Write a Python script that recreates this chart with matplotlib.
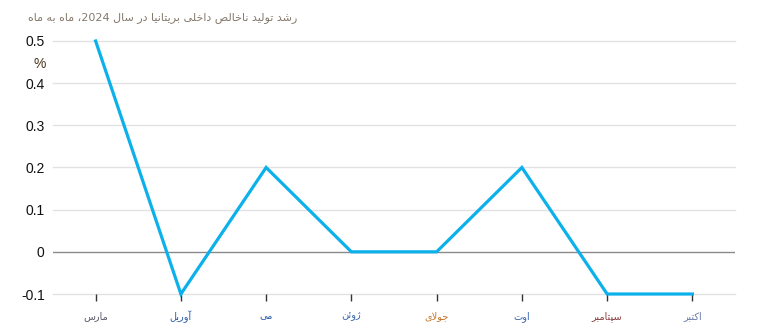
import matplotlib
matplotlib.use("Agg")
import matplotlib.pyplot as plt
import re

# ---------------- data ----------------
months = ["مارس", "آوریل", "می", "ژوئن", "جولای", "اوت", "سپتامبر", "اکتبر"]
growth = [0.5, -0.1, 0.2, 0.0, 0.0, 0.2, -0.1, -0.1]
yticks = [-0.1, 0, 0.1, 0.2, 0.3, 0.4, 0.5]
ytick_labels = ["-0.1", "0", "0.1", "0.2", "0.3", "0.4", "0.5"]
month_colors = ["#5a5a6a", "#2a5aa8", "#2a5aa8", "#3a66aa", "#c47424", "#3a66b0", "#8a3c3c", "#6a78a8"]
title = "رشد تولید ناخالص داخلی بریتانیا در سال 2024، ماه به ماه"

# ---------------- minimal Arabic/Persian shaper ----------------
# (isolated, final, initial, medial) ; right-joining letters have only 2 forms
FORMS = {
    "ا": ("\uFE8D", "\uFE8E"),
    "آ": ("\uFE81", "\uFE82"),
    "د": ("\uFEA9", "\uFEAA"),
    "ر": ("\uFEAD", "\uFEAE"),
    "ژ": ("\uFB8A", "\uFB8B"),
    "و": ("\uFEED", "\uFEEE"),
    "ب": ("\uFE8F", "\uFE90", "\uFE91", "\uFE92"),
    "ت": ("\uFE95", "\uFE96", "\uFE97", "\uFE98"),
    "ج": ("\uFE9D", "\uFE9E", "\uFE9F", "\uFEA0"),
    "خ": ("\uFEA5", "\uFEA6", "\uFEA7", "\uFEA8"),
    "س": ("\uFEB1", "\uFEB2", "\uFEB3", "\uFEB4"),
    "ش": ("\uFEB5", "\uFEB6", "\uFEB7", "\uFEB8"),
    "ص": ("\uFEB9", "\uFEBA", "\uFEBB", "\uFEBC"),
    "ل": ("\uFEDD", "\uFEDE", "\uFEDF", "\uFEE0"),
    "م": ("\uFEE1", "\uFEE2", "\uFEE3", "\uFEE4"),
    "ن": ("\uFEE5", "\uFEE6", "\uFEE7", "\uFEE8"),
    "ه": ("\uFEE9", "\uFEEA", "\uFEEB", "\uFEEC"),
    "ی": ("\uFBFC", "\uFBFD", "\uFBFE", "\uFBFF"),
    "ئ": ("\uFE89", "\uFE8A", "\uFE8B", "\uFE8C"),
    "پ": ("\uFB56", "\uFB57", "\uFB58", "\uFB59"),
    "ک": ("\uFB8E", "\uFB8F", "\uFB90", "\uFB91"),
}


def dual(c):
    return c in FORMS and len(FORMS[c]) == 4


def shape(text):
    out = []
    chars = list(text)
    i = 0
    n = len(chars)
    while i < n:
        c = chars[i]
        if c not in FORMS:
            out.append(c)
            i += 1
            continue
        prev = chars[i - 1] if i > 0 else ""
        joins_prev = dual(prev)
        if c == "ل" and i + 1 < n and chars[i + 1] in ("ا", "آ"):
            if chars[i + 1] == "ا":
                out.append("\uFEFC" if joins_prev else "\uFEFB")
            else:
                out.append("\uFEF6" if joins_prev else "\uFEF5")
            i += 2
            continue
        nxt = chars[i + 1] if i + 1 < n else ""
        joins_next = dual(c) and nxt in FORMS
        f = FORMS[c]
        if joins_prev and joins_next:
            out.append(f[3])
        elif joins_prev:
            out.append(f[1])
        elif joins_next:
            out.append(f[2])
        else:
            out.append(f[0])
        i += 1
    shaped = "".join(out)
    # visual reordering: reverse, keeping digit runs in order
    tokens = re.findall(r"[0-9.]+|[^0-9.]+", shaped)
    vis = []
    for t in reversed(tokens):
        if re.fullmatch(r"[0-9.]+", t):
            vis.append(t)
        else:
            vis.append(t[::-1])
    return "".join(vis)


# ---------------- figure ----------------
fig = plt.figure(figsize=(7.65, 3.33), dpi=100)
ax = fig.add_axes([53 / 765, 39 / 333, (735 - 53) / 765, (294 - 41) / 333])

x = list(range(len(months)))
ax.set_xlim(-0.5, len(months) - 0.5)
ax.set_ylim(-0.1, 0.5)

for v in yticks:
    if v == 0:
        ax.axhline(v, color="#8a8a8a", lw=1.0, zorder=1)
    else:
        ax.axhline(v, color="#e2e2e2", lw=1.0, zorder=1, clip_on=False)

ax.plot(x, growth, color="#0cb0ea", lw=2.3, solid_joinstyle="miter", zorder=3, clip_on=False)

for s in ax.spines.values():
    s.set_visible(False)

num_font = ["Liberation Sans Narrow", "Liberation Sans", "DejaVu Sans"]
ax.set_yticks(yticks)
ax.set_yticklabels(ytick_labels, fontfamily=num_font, fontsize=10, color="#111111")
ax.tick_params(axis="y", length=0, pad=6)

ax.set_xticks(x)
ax.set_xticklabels([shape(m) for m in months], fontfamily=["DejaVu Sans"], fontsize=7)
for lbl, col in zip(ax.get_xticklabels(), month_colors):
    lbl.set_color(col)
ax.tick_params(axis="x", length=5, width=1, color="#333333", pad=7, direction="out")

fig.text(40 / 765, 1 - 64 / 333, "%", fontsize=10, color="#4a3420",
         fontfamily=num_font, ha="center", va="center")

fig.text(297 / 765, 1 - 18 / 333, shape(title), fontsize=8.05, color="#857a6c",
         fontfamily=["DejaVu Sans"], ha="right", va="center")

fig.savefig("out.png", dpi=100)
